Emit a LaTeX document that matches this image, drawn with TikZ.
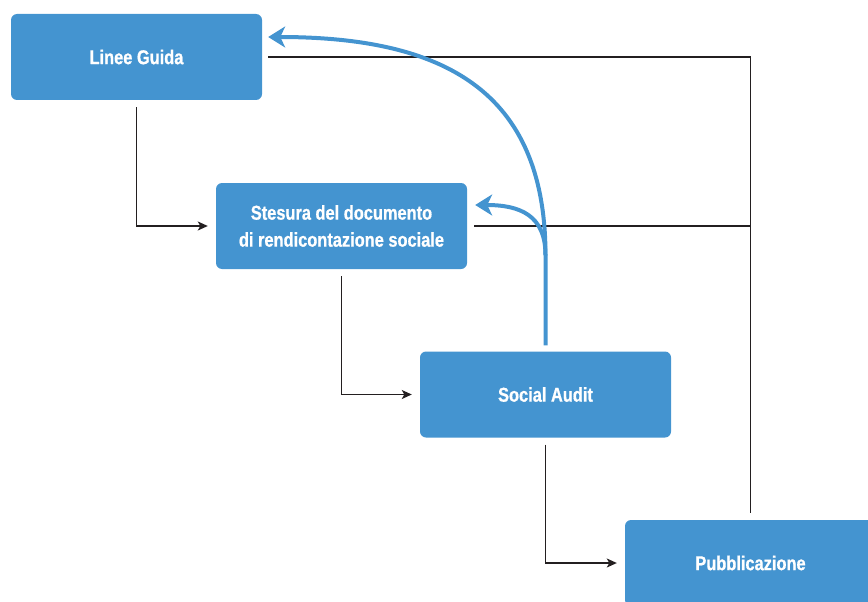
\documentclass[tikz,border=0pt]{standalone}
\usepackage{fontspec}
\setmainfont{Liberation Sans}[FakeStretch=0.82,BoldFeatures={FakeBold=0.8}]
\usetikzlibrary{arrows.meta,calc}
\definecolor{boxblue}{HTML}{4494D0}
\definecolor{lineblk}{HTML}{231F20}
\begin{document}
\begin{tikzpicture}[x=1pt,y=-1pt,
  stepbox/.style={fill=boxblue,rounded corners=6pt,minimum width=251pt,minimum height=86pt,
    text=white,font=\bfseries\fontsize{20}{27}\selectfont,align=center,inner sep=0pt},
  blk/.style={draw=lineblk,line width=1.3pt,-{Stealth[length=10pt,width=9pt,inset=2.5pt]}},
  blkline/.style={draw=lineblk,line width=1.3pt},
  blu/.style={draw=boxblue,line width=4pt,-{Stealth[length=17pt,width=21pt,inset=5pt]}}]
\useasboundingbox (0,0) rectangle (868,602);
\node[stepbox] (LG) at (136.5,57) {Linee Guida};
\node[stepbox] (ST) at (341.5,226) {Stesura del documento\\di rendicontazione sociale};
\node[stepbox] (SA) at (545.5,394.5) {Social Audit};
\node[stepbox] (PU) at (750.5,563) {Pubblicazione};
% forward flow
\draw[blk,shorten <=7pt,shorten >=8pt] (LG.south) |- (ST.west);
\draw[blk,shorten <=7pt,shorten >=8pt] (ST.south) |- (SA.west);
\draw[blk,shorten <=7pt,shorten >=8pt] (SA.south) |- (PU.west);
% feedback lines
\coordinate (j1) at (PU.north |- LG.east);
\coordinate (j2) at (PU.north |- ST.east);
\draw[blkline] ([yshift=7pt]PU.north) -- (j1) -- ([xshift=6pt]LG.east);
\draw[blkline] (j2) -- ([xshift=7pt]ST.east);
% blue feedback arrows
\coordinate (fork) at ($(SA.north)+(0,-96)$);
\coordinate (tipLG) at ($(LG.east)+(6,-20)$);
\coordinate (tipST) at ($(ST.east)+(8,-21)$);
\draw[blu] ([yshift=6pt]SA.north) -- (fork) .. controls +(0,-165) and +(175,0) .. (tipLG);
\draw[blu] (fork) .. controls +(0,-40) and +(45,0) .. (tipST);
\end{tikzpicture}
\end{document}
